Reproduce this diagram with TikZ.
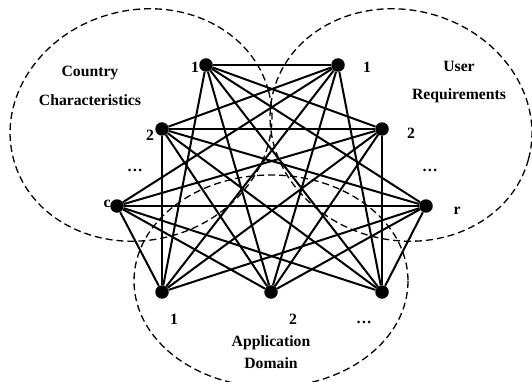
\documentclass[tikz,border=0pt]{standalone}
\usepackage{fontspec}
\setmainfont{Liberation Serif}
\begin{document}
\begin{tikzpicture}[x=1pt,y=-1pt,
  dot/.style={circle,fill=black,inner sep=0pt,minimum size=13.5pt},
  edge/.style={line width=2pt,black},
  region/.style={dash pattern=on 7pt off 4pt,line width=1.3pt,black},
  lab/.style={font=\bfseries\fontsize{15.7}{18}\selectfont,inner sep=0pt},
  title/.style={lab,align=center}]
\useasboundingbox (0,0) rectangle (532,382);
% dashed regions
\draw[region,rotate around={15:(141,125)}] (141,125) ellipse [x radius=132,y radius=115];
\draw[region,rotate around={-15:(401,125)}] (401,125) ellipse [x radius=132,y radius=115];
\draw[region] (271,281) ellipse [x radius=137,y radius=106];
% nodes
\node[dot] (L1) at (206,65) {};
\node[dot] (L2) at (162,129) {};
\node[dot] (Lc) at (117,206) {};
\node[dot] (R1) at (338,65) {};
\node[dot] (R2) at (382,129) {};
\node[dot] (Rr) at (426,206) {};
\node[dot] (B1) at (162,292) {};
\node[dot] (B2) at (271,292) {};
\node[dot] (B3) at (382,292) {};
% connectors
\foreach \a in {L1,L2,Lc}{
  \foreach \b in {R1,R2,Rr,B1,B2,B3}{
    \draw[edge] (\a) -- (\b);
  }
}
\foreach \a in {R1,R2,Rr}{
  \foreach \b in {B1,B2,B3}{
    \draw[edge] (\a) -- (\b);
  }
}
% labels
\node[lab] (tL1) at (195,67) {1};
\node[lab] (tL2) at (150,135) {2};
\node[lab] (tLd) at (135,170) {…};
\node[lab] (tLc) at (107,204) {c};
\node[lab] (tR1) at (367,67) {1};
\node[lab] (tR2) at (411,133) {2};
\node[lab] (tRd) at (430,170) {…};
\node[lab] (tRr) at (457,211) {r};
\node[lab] (tB1) at (174,319) {1};
\node[lab] (tB2) at (293,319) {2};
\node[lab] (tBd) at (364,322) {…};
% titles
\node[title,font=\bfseries\fontsize{15.7}{29}\selectfont] (tC) at (90,86) {Country\\Characteristics};
\node[title,font=\bfseries\fontsize{15.7}{28.5}\selectfont] (tU) at (459,82) {User\\Requirements};
\node[title,font=\bfseries\fontsize{15.7}{22}\selectfont] (tA) at (271,352) {Application\\Domain};
\end{tikzpicture}
\end{document}
